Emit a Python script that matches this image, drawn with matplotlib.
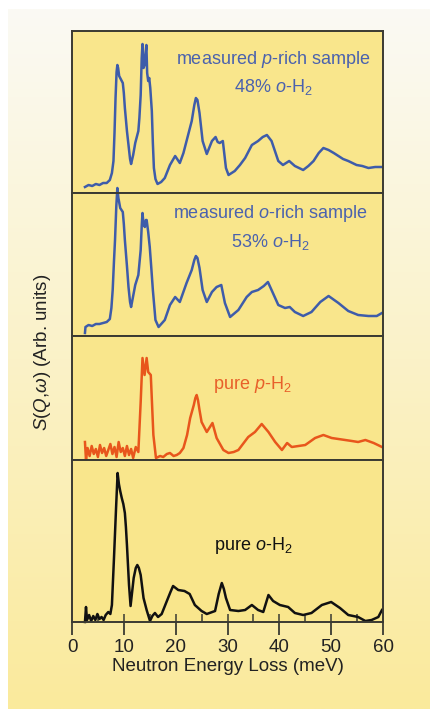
import numpy as np
import matplotlib
matplotlib.use("Agg")
import matplotlib.pyplot as plt
from matplotlib import font_manager

names = {f.name for f in font_manager.fontManager.ttflist}
narrow = "Liberation Sans Narrow" if "Liberation Sans Narrow" in names else "Liberation Sans"
plt.rcParams['font.family'] = ['Liberation Sans', 'DejaVu Sans']
plt.rcParams['mathtext.fontset'] = 'custom'
plt.rcParams['mathtext.rm'] = 'Liberation Sans'
plt.rcParams['mathtext.it'] = 'Liberation Sans:italic'

# ---------------- data (energy in meV, S in arbitrary units) ----------------
E_p_rich = [2.5, 3.2, 3.9, 4.6, 5.3, 6.0, 6.7, 7.3, 7.7, 8.0,
            8.2, 8.4, 8.6, 8.75, 8.9, 9.1, 9.3, 9.6, 9.8, 10.0,
            10.2, 10.6, 10.9, 11.2, 11.4, 11.8, 12.2, 12.8, 13.0, 13.25,
            13.45, 13.6, 13.8, 14.0, 14.2, 14.35, 14.5, 14.7, 14.9, 15.1,
            15.4, 15.6, 15.8, 16.1, 16.5, 17.2, 17.9, 18.9, 19.9, 20.8,
            21.5, 22.1, 23.1, 23.6, 23.9, 24.2, 24.6, 25.2, 26.0, 27.0,
            27.7, 28.1, 28.5, 29.1, 29.7, 30.2, 31.4, 32.4, 33.4, 34.7,
            35.9, 36.8, 37.6, 38.5, 39.8, 40.7, 41.9, 43.0, 44.6, 45.6,
            46.6, 47.6, 48.5, 49.5, 50.5, 51.4, 52.3, 53.3, 54.9, 56.0,
            57.2, 58.5, 59.8]
S_p_rich = [6, 8, 7, 9, 8, 10, 10, 13, 20, 32,
            60, 95, 121, 128, 125, 117, 115, 112, 110, 100,
            85, 62, 48, 34, 29, 38, 50, 62, 75, 98,
            135, 149, 125, 128, 140, 148, 120, 112, 115, 105,
            82, 50, 25, 14, 9, 11, 15, 28, 37, 30,
            40, 52, 72, 88, 95, 93, 80, 52, 39, 52,
            56, 51, 50, 52, 25, 18, 22, 28, 35, 48,
            52, 56, 58, 52, 32, 28, 32, 27, 23, 27,
            32, 40, 45, 43, 40, 37, 34, 32, 28, 27,
            25, 26, 26]

E_o_rich = [2.5, 2.6, 3.2, 3.9, 4.6, 5.3, 6.0, 6.7, 7.3, 7.6,
            7.85, 8.1, 8.3, 8.55, 8.75, 8.95, 9.3, 9.8, 10.0, 10.2,
            10.6, 10.9, 11.2, 11.4, 11.8, 12.2, 12.8, 13.25, 13.45, 13.6,
            13.8, 14.05, 14.25, 14.4, 14.7, 15.0, 15.3, 15.6, 16.1, 16.7,
            17.9, 18.9, 19.9, 20.8, 22.1, 23.1, 23.6, 23.9, 24.2, 24.6,
            25.2, 26.0, 27.0, 27.9, 28.8, 29.5, 30.5, 32.1, 33.7, 34.7,
            35.9, 37.0, 37.8, 38.5, 39.8, 41.1, 42.0, 43.0, 44.6, 46.2,
            47.9, 49.5, 51.4, 53.3, 55.2, 57.2, 58.8, 59.8]
S_o_rich = [3, 9, 11, 10, 12, 12, 13, 14, 17, 28,
            46, 75, 96, 130, 148, 138, 128, 124, 112, 96,
            70, 49, 34, 29, 40, 51, 61, 86, 110, 123,
            112, 109, 116, 116, 104, 89, 68, 46, 16, 9,
            16, 31, 39, 34, 53, 66, 76, 80, 78, 68,
            46, 34, 44, 49, 51, 33, 19, 26, 39, 44,
            46, 50, 54, 46, 31, 28, 29, 24, 20, 24,
            34, 40, 33, 25, 21, 20, 20, 23]

E_pure_p = [2.5, 2.7, 3.0, 3.4, 3.8, 4.2, 4.6, 5.0, 5.4, 5.8,
            6.2, 6.6, 7.0, 7.4, 7.8, 8.2, 8.6, 9.0, 9.4, 9.8,
            10.2, 10.6, 11.0, 11.4, 11.8, 12.3, 12.8, 13.25, 13.6, 14.0,
            14.4, 14.7, 15.2, 15.7, 16.2, 17.0, 17.6, 18.3, 18.9, 19.6,
            20.2, 20.8, 21.5, 22.2, 22.8, 23.5, 23.8, 24.05, 24.3, 24.6,
            25.0, 26.0, 27.1, 27.9, 29.2, 30.2, 31.2, 32.1, 34.0, 35.3,
            36.6, 37.9, 39.2, 40.5, 41.5, 42.4, 43.7, 45.0, 46.9, 48.5,
            50.1, 51.4, 52.7, 54.0, 55.2, 56.6, 58.2, 59.8]
S_pure_p = [18, 0, 12, 4, 14, 6, 11, 3, 15, 7,
            12, 4, 10, 16, 6, 13, 3, 18, 8, 12,
            4, 14, 5, 11, 2, 13, 8, 58, 102, 85,
            102, 88, 85, 25, 2, 4, 3, 6, 7, 4,
            5, 7, 12, 25, 42, 55, 62, 65, 60, 50,
            38, 28, 37, 22, 10, 7, 8, 10, 23, 28,
            36, 28, 18, 10, 17, 13, 14, 15, 22, 25,
            22, 21, 20, 19, 18, 20, 17, 13]

E_pure_o = [2.5, 2.7, 2.9, 3.3, 3.7, 4.1, 4.5, 4.9, 5.3, 5.7,
            6.1, 6.5, 7.0, 7.4, 7.7, 8.1, 8.5, 8.8, 9.05, 9.3,
            9.6, 9.9, 10.2, 10.4, 10.6, 11.0, 11.3, 11.9, 12.3, 12.6,
            12.9, 13.25, 13.8, 14.4, 15.05, 15.5, 16.0, 16.6, 17.3, 18.3,
            19.0, 19.5, 20.5, 21.7, 22.7, 23.7, 25.0, 26.0, 27.6, 28.3,
            28.9, 29.3, 29.7, 30.5, 32.1, 33.4, 34.7, 35.9, 36.9, 37.9,
            38.8, 40.1, 41.7, 43.0, 44.6, 46.2, 48.2, 50.0, 51.7, 53.3,
            55.2, 56.6, 57.8, 59.1, 59.8]
S_pure_o = [0, 15, 2, 7, 1, 6, 2, 8, 3, 5,
            2, 7, 10, 8, 17, 64, 114, 149, 138, 131,
            124, 118, 109, 95, 77, 37, 16, 44, 54, 57,
            54, 47, 24, 12, 1, 6, 9, 5, 8, 21,
            30, 36, 32, 31, 28, 17, 11, 8, 11, 28,
            39, 33, 24, 12, 11, 12, 17, 12, 10, 27,
            21, 17, 15, 9, 7, 9, 17, 20, 14, 7,
            5, 1, 2, 5, 12]

x_ticks = [0, 10, 20, 30, 40, 50, 60]
x_label = "Neutron Energy Loss (meV)"
y_label = "$S$($Q$,$\\omega$) (Arb. units)"

# ---------------- figure ----------------
W, H = 430, 709
fig = plt.figure(figsize=(W / 100, H / 100), dpi=100)
fig.patch.set_facecolor('white')

# gradient background panel
bg = fig.add_axes([8 / W, 0, 422 / W, 700 / H])
bg.set_axis_off()
top_c = np.array([0xFB, 0xFA, 0xF4]) / 255
bot_c = np.array([0xFA, 0xEA, 0x9C]) / 255
t = np.linspace(0, 1, 256)[:, None]
grad = top_c[None, :] * (1 - t) + bot_c[None, :] * t
grad = np.repeat(grad[:, None, :], 2, axis=1)
bg.imshow(grad, aspect='auto', extent=[0, 1, 0, 1], origin='upper')
bg.set_xlim(0, 1)
bg.set_ylim(0, 1)

panel_face = '#F9E68C'
frame_col = '#3a3a32'
left, width = 72 / W, 311 / W
# (top_px, bottom_px)
panels = [(31, 193), (193, 336), (336, 460), (460, 622)]
series = [(E_p_rich, S_p_rich, '#3E5CAA'),
          (E_o_rich, S_o_rich, '#3E5CAA'),
          (E_pure_p, S_pure_p, '#E8561C'),
          (E_pure_o, S_pure_o, '#111111')]

axes = []
for (tp, bp), (E, S, c) in zip(panels, series):
    ax = fig.add_axes([left, (H - bp) / H, width, (bp - tp) / H])
    ax.set_facecolor(panel_face)
    ax.plot(E, S, color=c, lw=1.8, clip_on=False, solid_joinstyle='round')
    ax.set_xlim(0, 60)
    ax.set_ylim(0, bp - tp)
    ax.set_yticks([])
    for sp in ax.spines.values():
        sp.set_color(frame_col)
        sp.set_linewidth(1.4)
    axes.append(ax)

for ax in axes[:-1]:
    ax.set_xticks([])

axb = axes[-1]
axb.set_xticks(x_ticks)
axb.set_xticks(np.arange(5, 60, 5), minor=True)
axb.xaxis.remove_overlapping_locs = False
axb.tick_params(axis='x', which='major', direction='out', length=9, width=1.3,
                color=frame_col, labelsize=13.5, pad=3, labelcolor='#222222')
axb.tick_params(axis='x', which='minor', direction='in', length=6, width=1.1,
                color=frame_col)
axb.set_xlabel(x_label, fontsize=13.5, color='#222222', labelpad=2)

fig.text(43 / W, 1 - 352 / H, y_label, rotation=90, fontsize=13.5,
         color='#222222', ha='center', va='center')

def ptext(x, y, s, color):
    fig.text(x / W, 1 - y / H, s, ha='center', va='center', fontsize=13,
             color=color, family=[narrow, 'Liberation Sans', 'DejaVu Sans'])

blue_t = '#4A62AE'
ptext(273, 59, "measured $\\mathit{p}$-rich sample", blue_t)
ptext(273, 87, "48% $\\mathit{o}$-H$_2$", blue_t)
ptext(270, 213, "measured $\\mathit{o}$-rich sample", blue_t)
ptext(270, 242, "53% $\\mathit{o}$-H$_2$", blue_t)
ptext(252, 384, "pure $\\mathit{p}$-H$_2$", '#E8602A')
ptext(253, 546, "pure $\\mathit{o}$-H$_2$", '#111111')

fig.savefig('out.png', dpi=100, facecolor='white')
